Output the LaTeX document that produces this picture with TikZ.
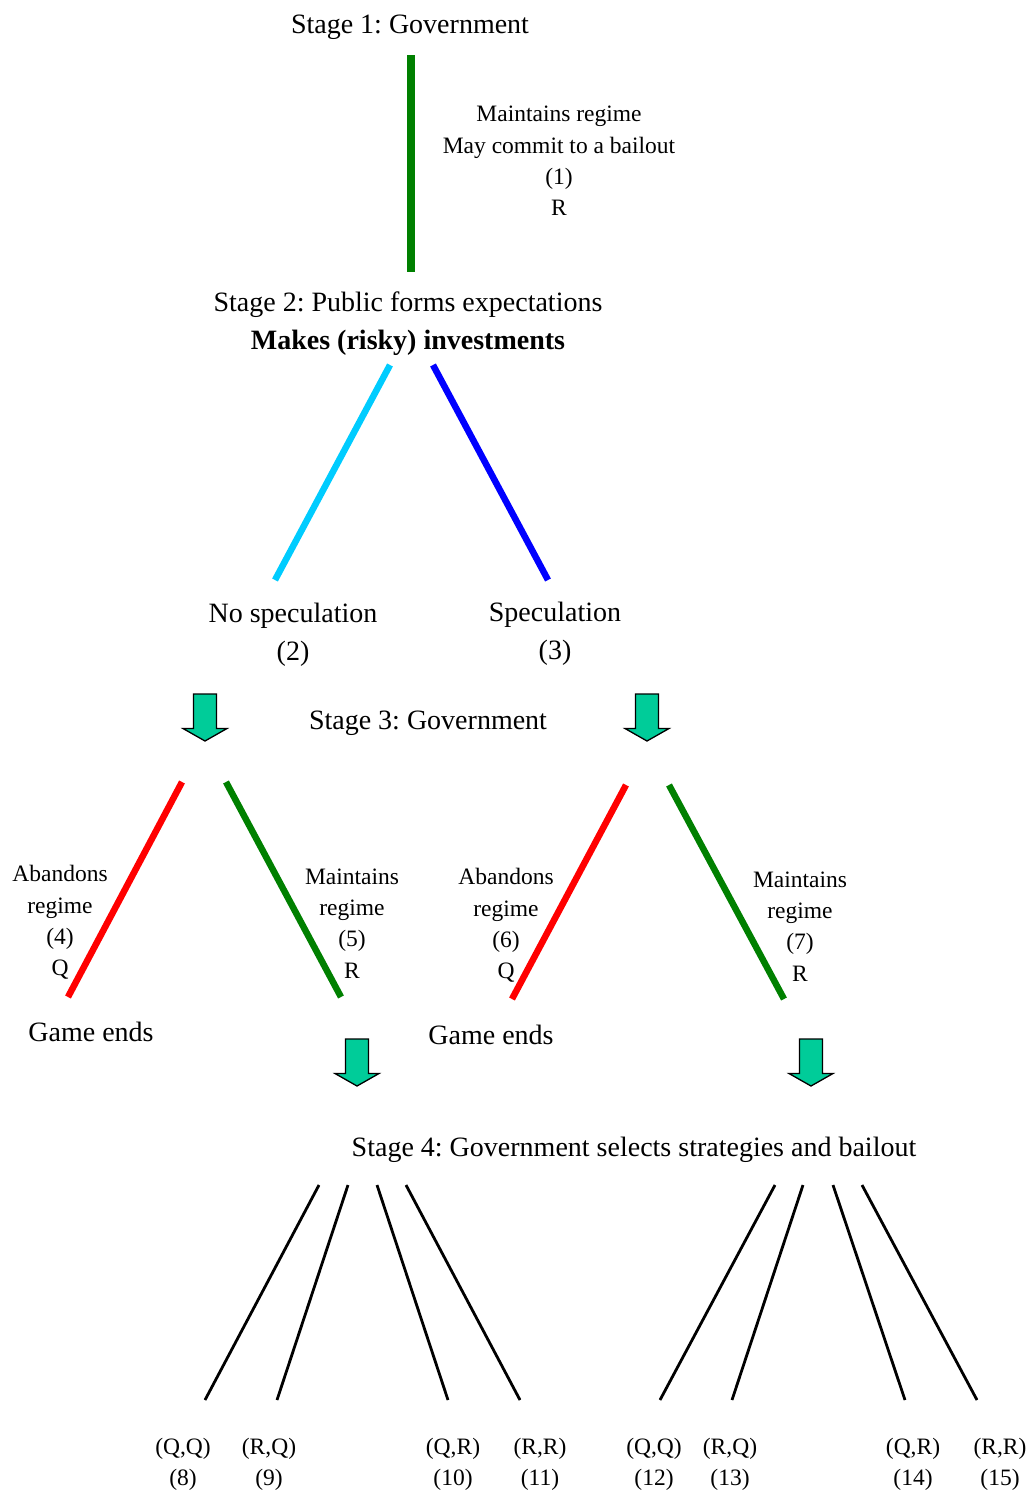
\documentclass[tikz,border=0pt]{standalone}
\usepackage{fontspec}
\setmainfont{Liberation Serif}
\frenchspacing
\begin{document}
\begin{tikzpicture}[x=1pt,y=-1pt,
  big/.style={inner sep=0pt, yshift=-3pt, font=\fontsize{28}{38}\selectfont, align=center},
  small/.style={inner sep=0pt, yshift=-0.5pt, font=\fontsize{23.5}{31.3}\selectfont, align=center},
  gline/.style={draw={rgb,255:red,0;green,128;blue,0}, line width=6.5pt},
  rline/.style={draw={rgb,255:red,255;green,0;blue,0}, line width=6.5pt},
  cline/.style={draw={rgb,255:red,0;green,204;blue,255}, line width=6.5pt},
  bline/.style={draw={rgb,255:red,0;green,0;blue,255}, line width=6.5pt},
  kline/.style={draw=black, line width=2.8pt},
  bigarrow/.pic={\filldraw[fill={rgb,255:red,0;green,204;blue,153}, draw=black, line width=1.3pt, line join=miter]
     (-11.5,0) -- (11.5,0) -- (11.5,34.5) -- (22,34.5) -- (0,47) -- (-22,34.5) -- (-11.5,34.5) -- cycle;}
]
\useasboundingbox (0,0) rectangle (1029,1494);

% Stage 1
\node[big] (s1) at (410,24) {Stage 1: Government};
\coordinate (v1a) at (411,55);
\coordinate (v1b) at (411,272);
\draw[gline, line width=8pt] (v1a) -- (v1b);
\node[small] (l1) at (559,160.5) {Maintains regime\\May commit to a bailout\\(1)\\R};

% Stage 2
\node[big] (s2) at (408,321) {Stage 2: Public forms expectations\\\textbf{Makes (risky) investments}};
\coordinate (c1a) at (390,365);
\coordinate (c1b) at (275,580);
\coordinate (b1a) at (433,365);
\coordinate (b1b) at (548,580);
\draw[cline] (c1a) -- (c1b);
\draw[bline] (b1a) -- (b1b);
\node[big] (nospec) at (293,632) {No speculation\\(2)};
\node[big] (spec) at (555,631) {Speculation\\(3)};

% Stage 3
\pic (arr1) at (205,694) {bigarrow};
\pic (arr2) at (647,694) {bigarrow};
\node[big] (s3) at (428,720) {Stage 3: Government};

\coordinate (r1a) at (182,782);
\coordinate (r1b) at (68,997);
\coordinate (g1a) at (226,782);
\coordinate (g1b) at (341,997);
\draw[rline] (r1a) -- (r1b);
\draw[gline] (g1a) -- (g1b);
\node[small] (l4) at (60,922) {Abandons\\regime\\(4)\\Q};
\node[small] (l5) at (352,923) {Maintains\\regime\\(5)\\R};
\node[big] (ge1) at (91,1029) {Game ends};

\coordinate (r2a) at (626,785);
\coordinate (r2b) at (512,999);
\coordinate (g2a) at (669,785);
\coordinate (g2b) at (784,999);
\draw[rline] (r2a) -- (r2b);
\draw[gline] (g2a) -- (g2b);
\node[small] (l6) at (506,925) {Abandons\\regime\\(6)\\Q};
\node[small] (l7) at (800,926) {Maintains\\regime\\(7)\\R};
\node[big] (ge2) at (491,1032) {Game ends};

\pic (arr3) at (357,1039) {bigarrow};
\pic (arr4) at (811,1039) {bigarrow};

% Stage 4
\node[big] (s4) at (634,1147) {Stage 4: Government selects strategies and bailout};

\foreach \n/\xa/\xb in {k1/319/205, k2/348/277, k3/377/448, k4/406/520,
                        k5/775/660, k6/803/732, k7/833/905, k8/862/977}{
  \coordinate (\n a) at (\xa,1185);
  \coordinate (\n b) at (\xb,1400);
  \draw[kline] (\n a) -- (\n b);
}

\node[small] (o8)  at (183,1464) {(Q,Q)\\(8)};
\node[small] (o9)  at (269,1464) {(R,Q)\\(9)};
\node[small] (o10) at (453,1464) {(Q,R)\\(10)};
\node[small] (o11) at (540,1464) {(R,R)\\(11)};
\node[small] (o12) at (654,1464) {(Q,Q)\\(12)};
\node[small] (o13) at (730,1464) {(R,Q)\\(13)};
\node[small] (o14) at (913,1464) {(Q,R)\\(14)};
\node[small] (o15) at (1000,1464) {(R,R)\\(15)};
\end{tikzpicture}
\end{document}
